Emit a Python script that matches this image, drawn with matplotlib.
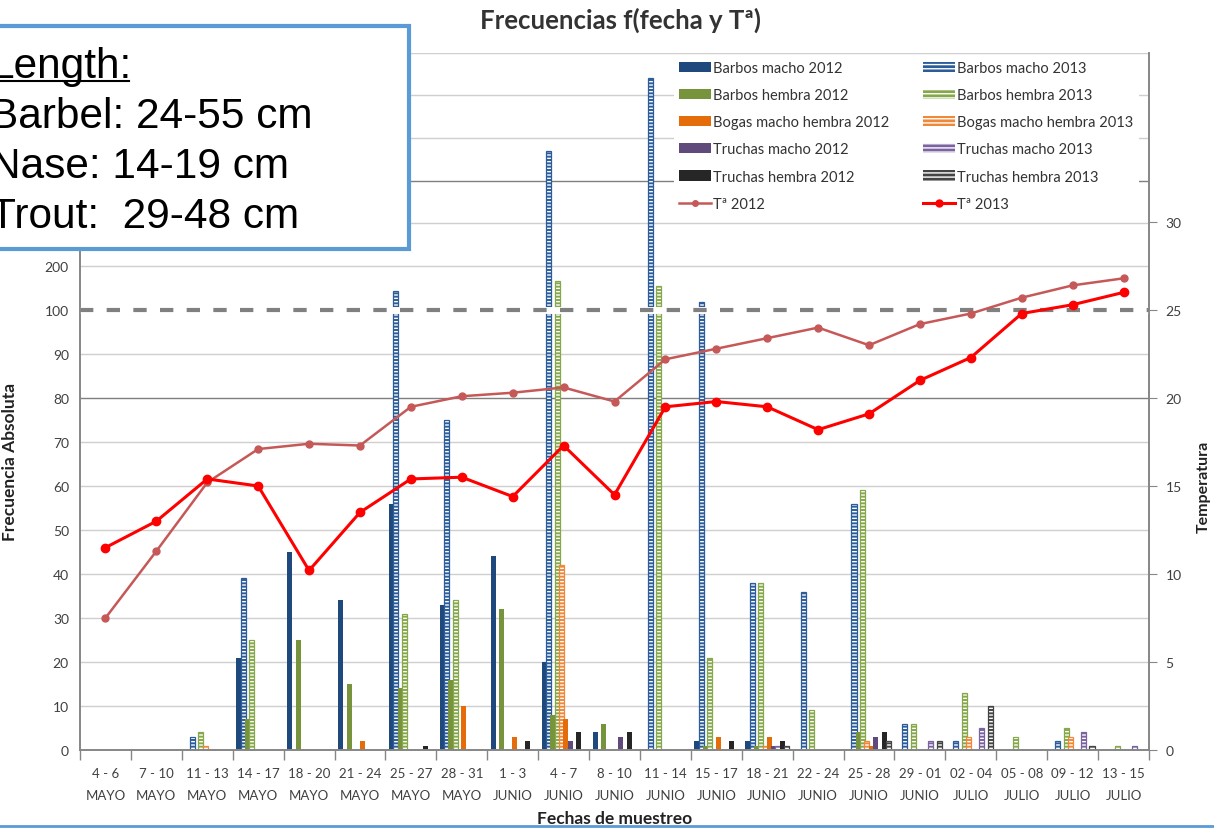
import numpy as np
import matplotlib
matplotlib.use("Agg")
import matplotlib.pyplot as plt
from matplotlib.patches import Rectangle, Patch
from matplotlib.lines import Line2D

plt.rcParams['font.family'] = ['Lato', 'DejaVu Sans']
plt.rcParams['hatch.linewidth'] = 1.0

# fechas de muestreo
categorias = ['4 - 6\nMAYO', '7 - 10\nMAYO', '11 - 13\nMAYO', '14 - 17\nMAYO', '18 - 20\nMAYO',
              '21 - 24\nMAYO', '25 - 27\nMAYO', '28 - 31\nMAYO', '1 - 3\nJUNIO', '4 - 7\nJUNIO',
              '8 - 10\nJUNIO', '11 - 14\nJUNIO', '15 - 17\nJUNIO', '18 - 21\nJUNIO', '22 - 24\nJUNIO',
              '25 - 28\nJUNIO', '29 - 01\nJUNIO', '02 - 04\nJULIO', '05 - 08\nJULIO', '09 - 12\nJULIO',
              '13 - 15\nJULIO']

# frecuencias (por fecha)
barbos_macho_2012 = [0, 0, 0, 21, 45, 34, 56, 33, 44, 20, 4, 0, 2, 2, 0, 0, 0, 0, 0, 0, 0]
barbos_macho_2013 = [0, 0, 3, 39, 0, 0, 143, 75, 0, 469, 0, 640, 118, 38, 36, 56, 6, 2, 0, 2, 0]
barbos_hembra_2012 = [0, 0, 0, 7, 25, 15, 14, 16, 32, 8, 6, 0, 1, 1, 0, 4, 0, 0, 0, 0, 0]
barbos_hembra_2013 = [0, 0, 4, 25, 0, 0, 31, 34, 0, 166, 0, 155, 21, 38, 9, 59, 6, 13, 3, 5, 1]
bogas_2012 = [0, 0, 0, 0, 0, 2, 0, 10, 3, 7, 0, 0, 3, 3, 0, 1, 0, 0, 0, 0, 0]
bogas_2013 = [0, 0, 1, 0, 0, 0, 0, 0, 0, 42, 0, 0, 0, 1, 0, 2, 0, 3, 0, 3, 0]
truchas_macho_2012 = [0, 0, 0, 0, 0, 0, 0, 0, 0, 2, 3, 0, 0, 1, 0, 3, 0, 0, 0, 0, 0]
truchas_macho_2013 = [0, 0, 0, 0, 0, 0, 0, 0, 0, 0, 0, 0, 0, 1, 0, 0, 2, 5, 0, 4, 1]
truchas_hembra_2012 = [0, 0, 0, 0, 0, 0, 1, 0, 2, 4, 4, 0, 2, 2, 0, 4, 0, 0, 0, 0, 0]
truchas_hembra_2013 = [0, 0, 0, 0, 0, 0, 0, 0, 0, 0, 0, 0, 0, 1, 0, 2, 2, 10, 0, 1, 0]

# temperaturas
temp_2012 = [7.5, 11.3, 15.2, 17.1, 17.4, 17.3, 19.5, 20.1, 20.3, 20.6, 19.8,
             22.2, 22.8, 23.4, 24.0, 23.0, 24.2, 24.8, 25.7, 26.4, 26.8]
temp_2013 = [11.5, 13.0, 15.4, 15.0, 10.2, 13.5, 15.4, 15.5, 14.4, 17.3, 14.5,
             19.5, 19.8, 19.5, 18.2, 19.1, 21.0, 22.3, 24.8, 25.3, 26.0]


# eje roto: por encima de 100 se comprime
def fwd(v):
    v = np.asarray(v, dtype=float)
    return np.where(v <= 100, v, np.where(v <= 200, 100 + (v - 100) * 0.1, 110 + (v - 200) * 0.097))


def inv(p):
    p = np.asarray(p, dtype=float)
    return np.where(p <= 100, p, np.where(p <= 110, 100 + (p - 100) * 10, 200 + (p - 110) / 0.097))


c_bm = '#1f497d'
c_bh = '#77933c'
c_bo = '#e46c0a'
c_tm = '#604a7b'
c_th = '#262626'

series = [
    (barbos_macho_2012, c_bm, False, 'Barbos macho 2012'),
    (barbos_macho_2013, '#2c5d9a', True, 'Barbos macho 2013'),
    (barbos_hembra_2012, c_bh, False, 'Barbos hembra 2012'),
    (barbos_hembra_2013, '#86a84a', True, 'Barbos hembra 2013'),
    (bogas_2013, '#f0883a', True, 'Bogas macho hembra 2013'),
    (bogas_2012, c_bo, False, 'Bogas macho hembra 2012'),
    (truchas_macho_2012, c_tm, False, 'Truchas macho 2012'),
    (truchas_macho_2013, '#7a63a0', True, 'Truchas macho 2013'),
    (truchas_hembra_2012, c_th, False, 'Truchas hembra 2012'),
    (truchas_hembra_2013, '#444444', True, 'Truchas hembra 2013'),
]

W, H = 1214, 829
fig = plt.figure(figsize=(W / 100, H / 100), dpi=100)
ax = fig.add_axes([80 / W, (H - 751) / H, 1069 / W, (751 - 53.6) / H])
ax.set_yscale('function', functions=(fwd, inv))
ax.set_ylim(0, 700)
n = len(categorias)
x = np.arange(n)
ax.set_xlim(-0.5, n - 0.5)

# lineas de rejilla
for g in list(range(10, 100, 10)) + [200, 300, 400, 500, 600, 700]:
    col = '#7f7f7f' if g in (80, 400) else '#cfcfcf'
    ax.axhline(g, color=col, lw=1.0, zorder=0)

step = 0.0845
width = 0.1
for k, (vals, col, hatched, lab) in enumerate(series):
    vals = np.array(vals, dtype=float)
    idx = np.nonzero(vals)[0]
    xs = x[idx] + (k - 4.5) * step
    if hatched:
        ax.bar(xs, vals[idx], width=width, color=col, edgecolor='white', hatch='-----', lw=0, zorder=2)
        ax.bar(xs, vals[idx], width=width, fill=False, edgecolor=col, lw=0.9, zorder=2)
    else:
        ax.bar(xs, vals[idx], width=width, color=col, lw=0, zorder=2)

# linea discontinua en 100
ax.axhline(100, color='white', lw=5, zorder=3)
ax.axhline(100, color='#808080', lw=3, ls=(0, (3.2, 3.2)), zorder=4)

ax.set_yticks([0, 10, 20, 30, 40, 50, 60, 70, 80, 90, 100, 200])
ax.set_yticklabels(['0', '10', '20', '30', '40', '50', '60', '70', '80', '90', '100', '200'])
ax.tick_params(axis='y', length=0, pad=8, labelsize=10, labelcolor='#404040')
ax.set_xticks(x)
ax.set_xticklabels(categorias, linespacing=2.0)
ax.set_xticks(np.arange(n + 1) - 0.5, minor=True)
ax.tick_params(axis='x', which='major', length=0, pad=12, labelsize=9.5, labelcolor='#404040')
ax.tick_params(axis='x', which='minor', length=7, color='#868686', width=1)
for s in ['top']:
    ax.spines[s].set_visible(False)
for s in ['left', 'right', 'bottom']:
    ax.spines[s].set_color('#868686')
    ax.spines[s].set_linewidth(1.2)

ax.set_ylabel('Frecuencia Absoluta', fontsize=12.5, fontweight='bold', color='#222222')
ax.yaxis.set_label_coords(-0.058, 0.414)
ax.set_xlabel('Fechas de muestreo', fontsize=12.5, fontweight='bold', color='#222222', labelpad=7)

ax2 = ax.twinx()
ax2.set_ylim(0, 39.625)
ax2.set_yticks([0, 5, 10, 15, 20, 25, 30])
ax2.tick_params(axis='y', length=6, color='#868686', pad=6, labelsize=10, labelcolor='#404040')
for s in ['top']:
    ax2.spines[s].set_visible(False)
for s in ['left', 'right', 'bottom']:
    ax2.spines[s].set_color('#868686')
    ax2.spines[s].set_linewidth(1.2)
ax2.plot(x, temp_2012, color='#c65858', lw=1.8, marker='o', ms=5, zorder=3)
ax2.plot(x, temp_2013, color='#ff0000', lw=2.2, marker='o', ms=6, zorder=4)
ax2.set_ylabel('Temperatura', fontsize=11.5, fontweight='bold', color='#222222', rotation=90)
ax2.yaxis.set_label_coords(1.045, 0.379)

# leyenda
handles = []
labels = []
orden = [0, 2, 5, 6, 8, 1, 3, 4, 7, 9]
for k in orden[:5]:
    vals, col, hatched, lab = series[k]
    handles.append(Patch(facecolor=col, edgecolor='none'))
    labels.append(lab)
handles.append(Line2D([], [], color='#c65858', lw=1.8, marker='o', ms=4))
labels.append('Tª 2012')
for k in orden[5:]:
    vals, col, hatched, lab = series[k]
    handles.append(Patch(facecolor=col, edgecolor='white', hatch='----', lw=0))
    labels.append(lab)
handles.append(Line2D([], [], color='#ff0000', lw=2.2, marker='o', ms=5))
labels.append('Tª 2013')
leg = ax2.legend(handles, labels, ncol=2, loc='upper left',
                 bbox_to_anchor=(674 / W, (H - 57) / H), bbox_transform=fig.transFigure,
                 frameon=True, framealpha=1, edgecolor='none', facecolor='white',
                 fontsize=10.5, handlelength=2.2, handleheight=0.7, handletextpad=0.15,
                 labelspacing=0.9, columnspacing=2.3, borderpad=0.35, borderaxespad=0)
for t in leg.get_texts():
    t.set_color('#333333')

fig.text(620 / W, (H - 20) / H, 'Frecuencias f(fecha y Tª)', ha='center', va='center',
         fontsize=18.5, fontweight='bold', color='#333333')

# cuadro de longitudes
box = Rectangle((-5 / W, (H - 250) / H), 414 / W, 223 / H, transform=fig.transFigure,
                facecolor='white', edgecolor='#5b9bd5', lw=3, zorder=10)
fig.add_artist(box)
lineas = ['Length:', 'Barbel: 24-55 cm', 'Nase: 14-19 cm', 'Trout:  29-48 cm']
bases = [78, 128, 178, 228]
for t, b in zip(lineas, bases):
    fig.text(-10 / W, (H - b) / H, t, ha='left', va='baseline', fontsize=30.5,
             family=['Liberation Sans', 'DejaVu Sans'], color='black', zorder=11)
fig.add_artist(Line2D([0, 129 / W], [(H - 82) / H, (H - 82) / H], transform=fig.transFigure,
                      color='black', lw=1.5, zorder=11))
fig.add_artist(Line2D([0, 1], [2 / H, 2 / H], transform=fig.transFigure,
                      color='#5b9bd5', lw=2, zorder=11))

fig.savefig('out.png', dpi=100)
